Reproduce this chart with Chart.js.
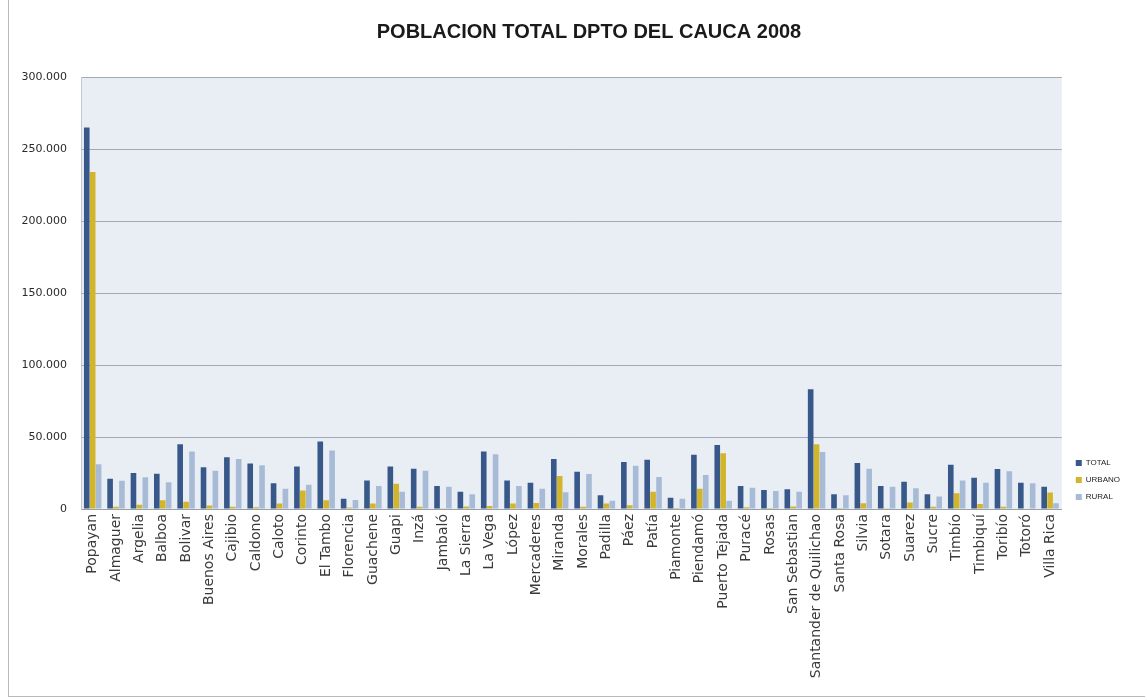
<!DOCTYPE html>
<html>
<head>
<meta charset="utf-8">
<script src="https://cdn.jsdelivr.net/npm/chart.js@4.4.1/dist/chart.umd.min.js"></script>
<style>
  html, body { margin: 0; padding: 0; background: #ffffff; }
  #wrap { position: absolute; left: 8px; top: 0px; width: 1137px; height: 697px;
          border-left: 1px solid #b9b9b9; border-bottom: 1px solid #b9b9b9; box-sizing: border-box; }
  canvas { display: block; }
</style>
</head>
<body>
<div id="wrap"><canvas id="c"></canvas></div>
<script>
const chartTitle = "POBLACION TOTAL DPTO DEL CAUCA 2008";
const municipios = ["Popayan","Almaguer","Argelia","Balboa","Bolivar","Buenos Aires","Cajibio","Caldono","Caloto","Corinto","El Tambo","Florencia","Guachene","Guapi","Inzá","Jambaló","La Sierra","La Vega","López","Mercaderes","Miranda","Morales","Padilla","Páez","Patía","Piamonte","Piendamó","Puerto Tejada","Puracé","Rosas","San Sebastian","Santander de Quilichao","Santa Rosa","Silvia","Sotara","Suarez","Sucre","Timbío","Timbiquí","Toribío","Totoró","Villa Rica"];
const seriesNames = ["TOTAL","URBANO","RURAL"];
const total  = [265000,21000,25000,24500,45000,29000,36000,31600,17800,29600,46800,7200,19800,29600,28000,16000,11900,40000,19800,18200,34700,25800,9600,32600,34200,7800,37600,44500,16000,13200,13800,83200,10300,32000,16000,19000,10300,30800,21700,27800,18200,15500];
const urbano = [234000,1500,3000,6000,5000,2500,1500,1300,3800,12800,6000,1000,3800,17500,1500,600,1700,2000,3800,4200,23000,1500,3800,2600,12000,700,14000,38800,1200,700,1800,45000,700,4000,500,4600,1600,11000,3500,1600,400,11500];
const rural  = [31000,19600,22000,18500,40000,26500,34800,30300,14000,16800,40700,6200,16000,12000,26600,15400,10200,38000,16000,14000,11700,24300,5700,30000,22200,7100,23600,5700,14800,12500,12000,39500,9600,28000,15500,14400,8700,19800,18200,26200,17800,4000];
const yTicks = [0,50000,100000,150000,200000,250000,300000];

const colors = ["#38588A","#D2B52C","#A8BBD6"];

const plotBg = {
  id: 'plotBg',
  beforeDraw(chart) {
    const a = chart.chartArea, ctx = chart.ctx;
    ctx.save();
    ctx.fillStyle = '#E9EEF5';
    ctx.fillRect(a.left, a.top, a.right - a.left, a.bottom - a.top);
    ctx.restore();
  }
};

// place the title and legend boxes where the reference has them
const placeBoxes = {
  id: 'placeBoxes',
  afterLayout(chart) {
    const t = chart.titleBlock;
    if (t) { t.left += 44; }
    const lg = chart.legend;
    if (lg) {
      lg.bottom = chart.chartArea.bottom + 1;
      lg.left += 5; lg.right += 5;
    }
  }
};

new Chart(document.getElementById('c'), {
  type: 'bar',
  data: {
    labels: municipios,
    datasets: [
      { label: seriesNames[0], data: total,  backgroundColor: colors[0] },
      { label: seriesNames[1], data: urbano, backgroundColor: colors[1] },
      { label: seriesNames[2], data: rural,  backgroundColor: colors[2] }
    ]
  },
  options: {
    responsive: true,
    maintainAspectRatio: false,
    animation: false,
    datasets: { bar: { categoryPercentage: 0.76, barPercentage: 0.95 } },
    layout: { padding: { left: 0, right: 20, top: 0, bottom: 0 } },
    plugins: {
      title: {
        display: true, text: chartTitle, color: '#1a1a1a',
        font: { family: 'Liberation Sans', size: 20, weight: 'bold' },
        padding: { top: 20, bottom: 33 }
      },
      legend: {
        position: 'right', align: 'end',
        labels: {
          boxWidth: 6, boxHeight: 6, padding: 9, color: '#222',
          font: { family: 'Liberation Sans', size: 8 }
        }
      },
      tooltip: { enabled: false }
    },
    scales: {
      x: {
        grid: { display: false, drawTicks: false },
        border: { display: true, color: '#9aa0aa' },
        ticks: {
          autoSkip: false, minRotation: 90, maxRotation: 90, padding: 5, color: '#3a3a3a',
          font: { family: 'DejaVu Sans', size: 14 }
        },
        afterFit(s) { s.height = 187; }
      },
      y: {
        min: 0, max: 300000,
        afterBuildTicks(s) { s.ticks = yTicks.map(v => ({ value: v })); },
        grid: { color: '#A4AAB4', lineWidth: 1, drawTicks: false },
        border: { display: true, color: '#c4c8d0' },
        ticks: {
          padding: 14, color: '#2a2a2a',
          font: { family: 'DejaVu Sans', size: 11 },
          callback: v => v.toLocaleString('de-DE')
        },
        afterFit(s) { s.width = 72; }
      }
    }
  },
  plugins: [plotBg, placeBoxes]
});
</script>
</body>
</html>
